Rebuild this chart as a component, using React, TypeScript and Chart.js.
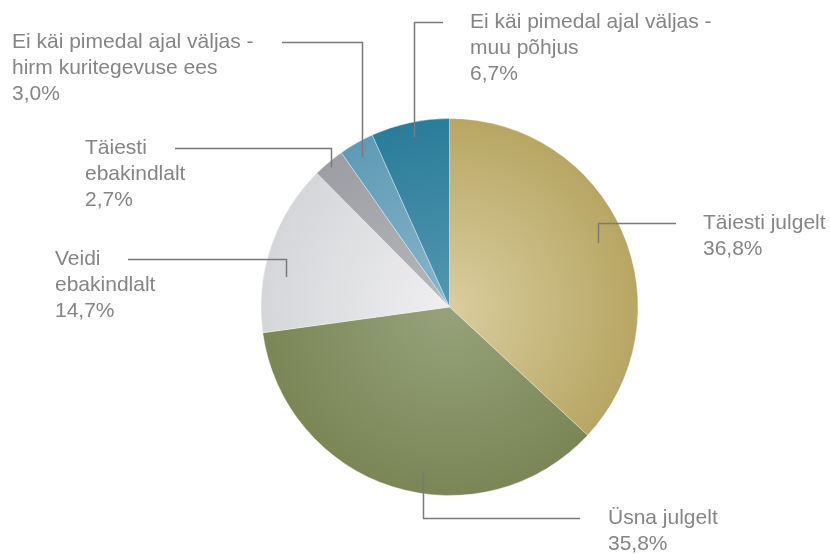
import React, { useEffect, useRef } from "react";
import { Chart, registerables } from "chart.js";

Chart.register(...registerables);

const categories = [
  "Täiesti julgelt",
  "Üsna julgelt",
  "Veidi ebakindlalt",
  "Täiesti ebakindlalt",
  "Ei käi pimedal ajal väljas - hirm kuritegevuse ees",
  "Ei käi pimedal ajal väljas - muu põhjus",
];
const values = [36.8, 35.8, 14.7, 2.7, 3.0, 6.7];
const valueLabels = ["36,8%", "35,8%", "14,7%", "2,7%", "3,0%", "6,7%"];
const labelLines = [
  ["Täiesti julgelt"],
  ["Üsna julgelt"],
  ["Veidi", "ebakindlalt"],
  ["Täiesti", "ebakindlalt"],
  ["Ei käi pimedal ajal väljas -", "hirm kuritegevuse ees"],
  ["Ei käi pimedal ajal väljas -", "muu põhjus"],
];
const innerColors = ["#dacd9f", "#97a27b", "#efeff1", "#b7b8bc", "#88b6cc", "#5397b1"];
const outerColors = ["#b7a663", "#7a8656", "#d5d6d9", "#9c9ea3", "#5f9ab5", "#2a7c99"];

// leader-line layout (annotation placement)
const leaderLayout = [
  { angOff: 0.3, rFrac: 0.86, elbowY: 223, endX: 676, textX: 703 },
  { angOff: -8.5, rFrac: 0.89, elbowY: 518, endX: 580, textX: 608 },
  { angOff: -8.3, rFrac: 0.88, elbowY: 259, endX: 128, textX: 55 },
  { angOff: -0.4, rFrac: 0.97, elbowY: 148, endX: 175, textX: 85 },
  { angOff: -0.6, rFrac: 0.92, elbowY: 42, endX: 282, textX: 12 },
  { angOff: 0.3, rFrac: 0.92, elbowY: 22, endX: 443, textX: 470 },
];

const FONT = '"Helvetica Neue", Helvetica, Arial, "Liberation Sans", sans-serif';

const leaderPlugin = {
  id: "leaders",
  afterDraw(chart: any) {
    const ctx = chart.ctx;
    const meta = chart.getDatasetMeta(0);
    ctx.save();
    meta.data.forEach((arc: any, i: number) => {
      const p = arc.getProps(["x", "y", "startAngle", "endAngle", "outerRadius"], true);
      const L = leaderLayout[i];
      const mid = (p.startAngle + p.endAngle) / 2 + (L.angOff * Math.PI) / 180;
      const ax = p.x + Math.cos(mid) * p.outerRadius * L.rFrac;
      const ay = p.y + Math.sin(mid) * p.outerRadius * L.rFrac;
      ctx.strokeStyle = "#7a7a7c";
      ctx.lineWidth = 1.5;
      ctx.beginPath();
      const vx = Math.round(ax) + 0.5;
      ctx.moveTo(vx, ay);
      ctx.lineTo(vx, L.elbowY + 0.5);
      ctx.lineTo(L.endX, L.elbowY + 0.5);
      ctx.stroke();
      ctx.fillStyle = "#858587";
      ctx.font = `21px ${FONT}`;
      ctx.textAlign = "left";
      ctx.textBaseline = "middle";
      const lines = [...labelLines[i], valueLabels[i]];
      lines.forEach((t, k) => {
        ctx.fillText(t, L.textX, L.elbowY + k * 26);
      });
    });
    ctx.restore();
  },
};

export default function App() {
  const ref = useRef<HTMLCanvasElement>(null);
  useEffect(() => {
    if (!ref.current) return;
    const chart = new Chart(ref.current, {
      type: "pie",
      data: {
        labels: categories,
        datasets: [
          {
            data: values,
            backgroundColor: (c: any) => {
              const ch = c.chart;
              const area = ch.chartArea;
              if (!area) return innerColors[c.dataIndex];
              const cx = (area.left + area.right) / 2;
              const cy = (area.top + area.bottom) / 2;
              const r = Math.min(area.right - area.left, area.bottom - area.top) / 2;
              const g = ch.ctx.createRadialGradient(cx, cy, 0, cx, cy, r);
              g.addColorStop(0, innerColors[c.dataIndex]);
              g.addColorStop(1, outerColors[c.dataIndex]);
              return g;
            },
            borderColor: "rgba(255,255,255,0.35)",
            borderWidth: 1,
          },
        ],
      },
      options: {
        responsive: false,
        animation: false,
        devicePixelRatio: 1,
        layout: { padding: { left: 260, right: 191, top: 118, bottom: 58 } },
        plugins: { legend: { display: false }, tooltip: { enabled: false } },
      },
      plugins: [leaderPlugin],
    });
    return () => chart.destroy();
  }, []);
  return (
    <div style={{ position: "absolute", left: 0, top: 0, width: 830, height: 554, background: "#fff" }}>
      <canvas ref={ref} width={830} height={554} />
    </div>
  );
}
